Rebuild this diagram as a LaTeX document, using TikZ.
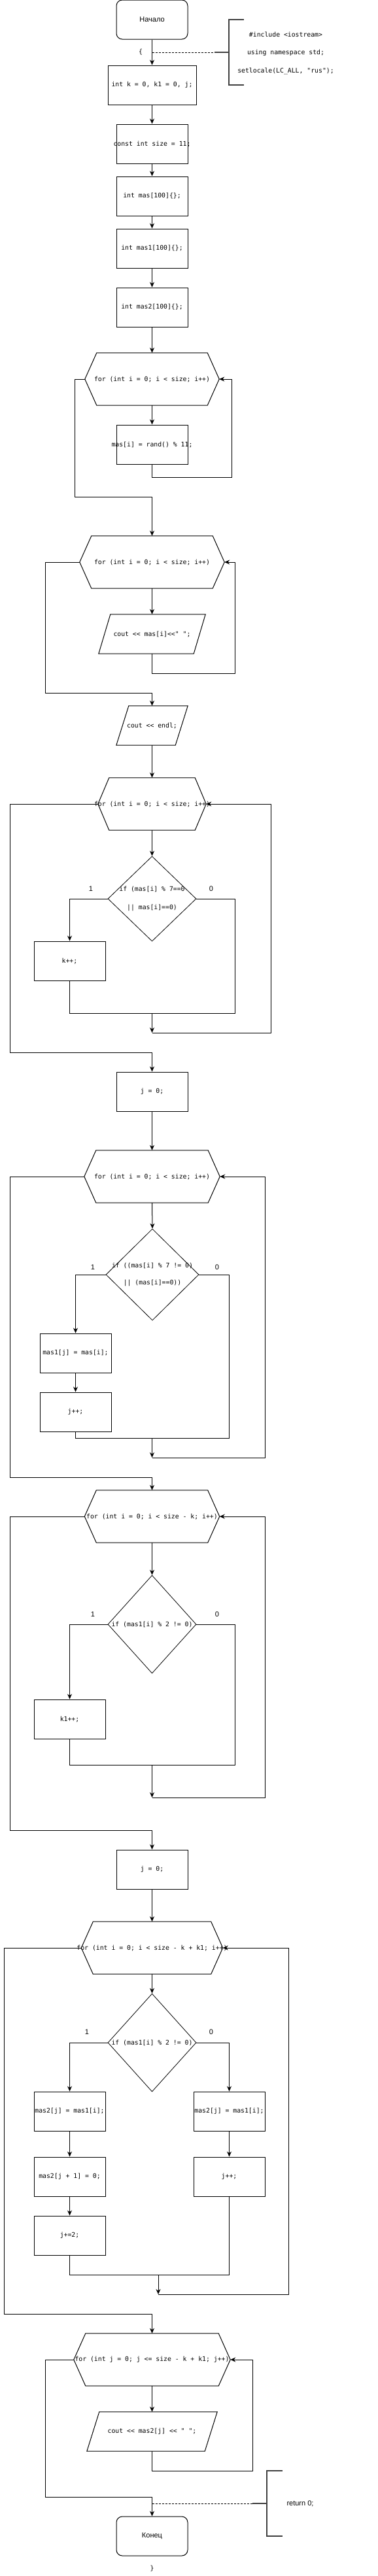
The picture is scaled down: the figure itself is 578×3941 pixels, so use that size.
\documentclass[tikz,border=0pt]{standalone}
\usepackage{fontspec}
\setmainfont{Liberation Sans}
\setmonofont{DejaVu Sans Mono}
\usetikzlibrary{shapes.geometric,arrows.meta}

\begin{document}
\begin{tikzpicture}[x=1pt,y=-1pt,%%
  arrowStyle/.style={-{Stealth[length=8pt,width=7pt]},line width=1pt},%%
  lineStyle/.style={-,line width=1pt},%%
  dashStyle/.style={-,line width=0.8pt,dash pattern=on 3pt off 2pt},%%
  noteStyle/.style={-,line width=2.2pt,black!75},%%
  codeStyle/.style={font=\ttfamily\fontsize{9.8}{12}\selectfont,inner sep=0pt,%%
    execute at begin node={\hbox to 0pt\bgroup\hss},%%
    execute at end node={\hss\egroup}},%%
  boxStyle/.style={codeStyle,rectangle,draw,line width=1pt,minimum width=109pt,minimum height=60pt},%%
  termStyle/.style={rectangle,rounded corners=9pt,draw,line width=1pt,minimum width=109pt,%%
    minimum height=60pt,font=\fontsize{11}{13}\selectfont},%%
  loopStyle/.style={codeStyle,rectangle,minimum height=80pt},%%
  ioStyle/.style={codeStyle,rectangle,minimum height=60pt},%%
  decisionStyle/.style={codeStyle,diamond,draw,line width=0.8pt,minimum width=135pt},%%
  labelStyle/.style={font=\fontsize{11}{13}\selectfont,inner sep=0pt}%%
]
%%
\useasboundingbox (0,0) rectangle (578,3941);
%%
%% Declarations.
\node[termStyle] (start) at (232.5,30) {Начало};
\node[boxStyle,minimum width=135pt] (initVars) at (232.5,130) {int k = 0, k1 = 0, j;};
\node[boxStyle] (sizeConst) at (232.5,220) {const int size = 11;};
\node[boxStyle] (masDecl) at (232.5,300) {int mas[100]\{\};};
\node[boxStyle] (masOneDecl) at (232.5,380) {int mas1[100]\{\};};
\node[boxStyle] (masTwoDecl) at (232.5,470) {int mas2[100]\{\};};
%% Fill and print mas.
\node[loopStyle,minimum width=205pt] (forA) at (232.5,580) {for (int i = 0; i < size; i++)};
\node[boxStyle] (fillMas) at (232.5,680) {mas[i] = rand() \% 11;};
\node[loopStyle,minimum width=221pt] (forB) at (232.5,860) {for (int i = 0; i < size; i++)};
\node[ioStyle,minimum width=163pt] (printMas) at (232.5,970) {cout << mas[i]<<" ";};
\node[ioStyle,minimum width=109pt] (printEndl) at (232.5,1110) {cout << endl;};
%% Count k.
\node[loopStyle,minimum width=165pt] (forC) at (232.5,1230) {for (int i = 0; i < size; i++)};
\node[decisionStyle,minimum height=130pt] (ifSeven) at (232.5,1375)
  {\begin{tabular}{@{}c@{}}if (mas[i] \% 7==0\\[16pt]|| mas[i]==0)\end{tabular}};
\node[boxStyle] (countK) at (106.5,1470) {k++;};
\node[boxStyle] (resetJ) at (232.5,1670) {j = 0;};
%% Fill mas1.
\node[loopStyle,minimum width=207pt] (forD) at (232.5,1800) {for (int i = 0; i < size; i++)};
\node[decisionStyle,minimum width=142pt,minimum height=140pt] (ifNotSeven) at (233,1950)
  {\begin{tabular}{@{}c@{}}if ((mas[i] \% 7 != 0)\\[14pt]|| (mas[i]==0))\end{tabular}};
\node[boxStyle] (copyMas) at (115.5,2070) {mas1[j] = mas[i];};
\node[boxStyle] (stepJ) at (115.5,2160) {j++;};
%% Count k1.
\node[loopStyle,minimum width=206pt] (forE) at (232.5,2320) {for (int i = 0; i < size - k; i++)};
\node[decisionStyle,minimum height=150pt] (ifOddA) at (232.5,2485) {if (mas1[i] \% 2 != 0)};
\node[boxStyle] (countKOne) at (106.5,2630) {k1++;};
\node[boxStyle] (resetJAgain) at (232.5,2860) {j = 0;};
%% Fill mas2.
\node[loopStyle,minimum width=216pt] (forF) at (232.5,2980) {for (int i = 0; i < size - k + k1; i++)};
\node[decisionStyle,minimum height=150pt] (ifOddB) at (232.5,3125) {if (mas1[i] \% 2 != 0)};
\node[boxStyle] (copyOdd) at (106.5,3230) {mas2[j] = mas1[i];};
\node[boxStyle] (copyEven) at (350.5,3230) {mas2[j] = mas1[i];};
\node[boxStyle] (zeroNext) at (106.5,3330) {mas2[j + 1] = 0;};
\node[boxStyle] (stepTwo) at (106.5,3420) {j+=2;};
\node[boxStyle] (stepOne) at (350.5,3330) {j++;};
%% Print mas2.
\node[loopStyle,minimum width=239pt] (forG) at (232.5,3610) {for (int j = 0; j <= size - k + k1; j++)};
\node[ioStyle,minimum width=199pt] (printMasTwo) at (232.5,3720) {cout << mas2[j] << " ";};
\node[termStyle] (finish) at (232.5,3880) {Конец};
%%
%% Outlines of the loops and outputs.
\foreach \n/\s in {forA/18,forB/18,forC/17,forD/18,forE/18,forF/18,forG/18}
  \draw[lineStyle] (\n.west) -- ([xshift=\s pt]\n.north west) -- ([xshift=-\s pt]\n.north east)
    -- (\n.east) -- ([xshift=-\s pt]\n.south east) -- ([xshift=\s pt]\n.south west) -- cycle;
\foreach \n/\s in {printMas/18,printEndl/19,printMasTwo/19}
  \draw[lineStyle] (\n.south west) -- ([xshift=\s pt]\n.north west) -- (\n.north east)
    -- ([xshift=-\s pt]\n.south east) -- cycle;
%%
%% Branch labels.
\node[labelStyle] (yesA) at (139,1360) {1};
\node[labelStyle] (noA) at (323,1360) {0};
\node[labelStyle] (yesB) at (142,1939) {1};
\node[labelStyle] (noB) at (332,1939) {0};
\node[labelStyle] (yesC) at (142,2470) {1};
\node[labelStyle] (noC) at (332,2470) {0};
\node[labelStyle] (yesD) at (133,3109) {1};
\node[labelStyle] (noD) at (323,3109) {0};
%%
%% Join points.
\coordinate (joinA) at (232.5,1550);
\coordinate (backA) at (232.5,1580);
\coordinate (joinB) at (232.5,2200);
\coordinate (backB) at (232.5,2230);
\coordinate (joinC) at (232.5,2700);
\coordinate (backC) at (232.5,2750);
\coordinate (joinD) at (242,3480);
\coordinate (backD) at (242,3510);
%%
%% Straight arrows.
\foreach \a/\b in {start/initVars,initVars/sizeConst,sizeConst/masDecl,masDecl/masOneDecl,%%
    masOneDecl/masTwoDecl,masTwoDecl/forA,forA/fillMas,forB/printMas,printEndl/forC,%%
    forC/ifSeven,resetJ/forD,forD/ifNotSeven,copyMas/stepJ,forE/ifOddA,resetJAgain/forF,%%
    forF/ifOddB,copyOdd/zeroNext,zeroNext/stepTwo,copyEven/stepOne,forG/printMasTwo}
  \draw[arrowStyle] (\a.south) -- (\b.north);
%%
%% Loop A.
\draw[arrowStyle] (fillMas.south) -- ++(0,20) -| ([xshift=19pt]forA.east) -- (forA.east);
\draw[arrowStyle] (forA.west) -- ++(-15,0) -- ++(0,180) -| (forB.north);
%% Loop B.
\draw[arrowStyle] (printMas.south) -- ++(0,30) -| ([xshift=16pt]forB.east) -- (forB.east);
\draw[arrowStyle] (forB.west) -- ++(-52,0) -- ++(0,200) -| (printEndl.north);
%% Loop C.
\draw[arrowStyle] (ifSeven.west) -| (countK.north);
\draw[lineStyle] (ifSeven.east) -- ++(59,0) |- (joinA);
\draw[lineStyle] (countK.south) |- (joinA);
\draw[arrowStyle] (joinA) -- (backA);
\draw[arrowStyle] (backA) -| ([xshift=99pt]forC.east) -- (forC.east);
\draw[arrowStyle] (forC.west) -- ++(-134,0) -- ++(0,380) -| (resetJ.north);
%% Loop D.
\draw[arrowStyle] (ifNotSeven.west) -| (copyMas.north);
\draw[lineStyle] (ifNotSeven.east) -- ++(46,0) |- (joinB);
\draw[lineStyle] (stepJ.south) |- (joinB);
\draw[arrowStyle] (joinB) -- (backB);
\draw[arrowStyle] (backB) -| ([xshift=69pt]forD.east) -- (forD.east);
\draw[arrowStyle] (forD.west) -- ++(-113,0) -- ++(0,460) -| (forE.north);
%% Loop E.
\draw[arrowStyle] (ifOddA.west) -| (countKOne.north);
\draw[lineStyle] (ifOddA.east) -- ++(59,0) |- (joinC);
\draw[lineStyle] (countKOne.south) |- (joinC);
\draw[arrowStyle] (joinC) -- (backC);
\draw[arrowStyle] (backC) -| ([xshift=69.5pt]forE.east) -- (forE.east);
\draw[arrowStyle] (forE.west) -- ++(-113.5,0) -- ++(0,480) -| (resetJAgain.north);
%% Loop F.
\draw[arrowStyle] (ifOddB.west) -| (copyOdd.north);
\draw[arrowStyle] (ifOddB.east) -| (copyEven.north);
\draw[lineStyle] (stepTwo.south) |- (joinD);
\draw[lineStyle] (stepOne.south) |- (joinD);
\draw[arrowStyle] (joinD) -- (backD);
\draw[arrowStyle] (backD) -| ([xshift=100.5pt]forF.east) -- (forF.east);
\draw[arrowStyle] (forF.west) -- ++(-117.5,0) -- ++(0,560) -| (forG.north);
%% Loop G.
\draw[arrowStyle] (printMasTwo.south) -- ++(0,30) -| ([xshift=34pt]forG.east) -- (forG.east);
\draw[arrowStyle] (forG.west) -- ++(-43,0) -- ++(0,210) -| (finish.north);
%%
%% Comments at the start and at the end.
\node[codeStyle] (braceOpen) at (215,80) {\{};
\node[codeStyle] (braceClose) at (232.5,3930) {\}};
\node[align=center,inner sep=0pt,font=\ttfamily\fontsize{9.8}{27.5}\selectfont] (noteTop) at (437,81)
  {\#include <iostream>\\using namespace std;\\setlocale(LC\_ALL, "rus");};
\node[labelStyle] (noteEnd) at (459,3830) {return 0;};
\coordinate (noteTopJoin) at (232.5,80);
\coordinate (noteTopStub) at (328,80);
\coordinate (noteEndJoin) at (232.5,3830);
\coordinate (noteEndStub) at (386,3830);
\draw[dashStyle] (noteTopJoin) -- (noteTopStub);
\draw[noteStyle] (noteTopStub) -- ++(22,0);
\draw[noteStyle] (373,30) -- (350,30) -- (350,130) -- (373,130);
\draw[dashStyle] (noteEndJoin) -- (noteEndStub);
\draw[noteStyle] (noteEndStub) -- ++(22,0);
\draw[noteStyle] (432,3780) -- (408,3780) -- (408,3880) -- (432,3880);
\end{tikzpicture}
\end{document}
